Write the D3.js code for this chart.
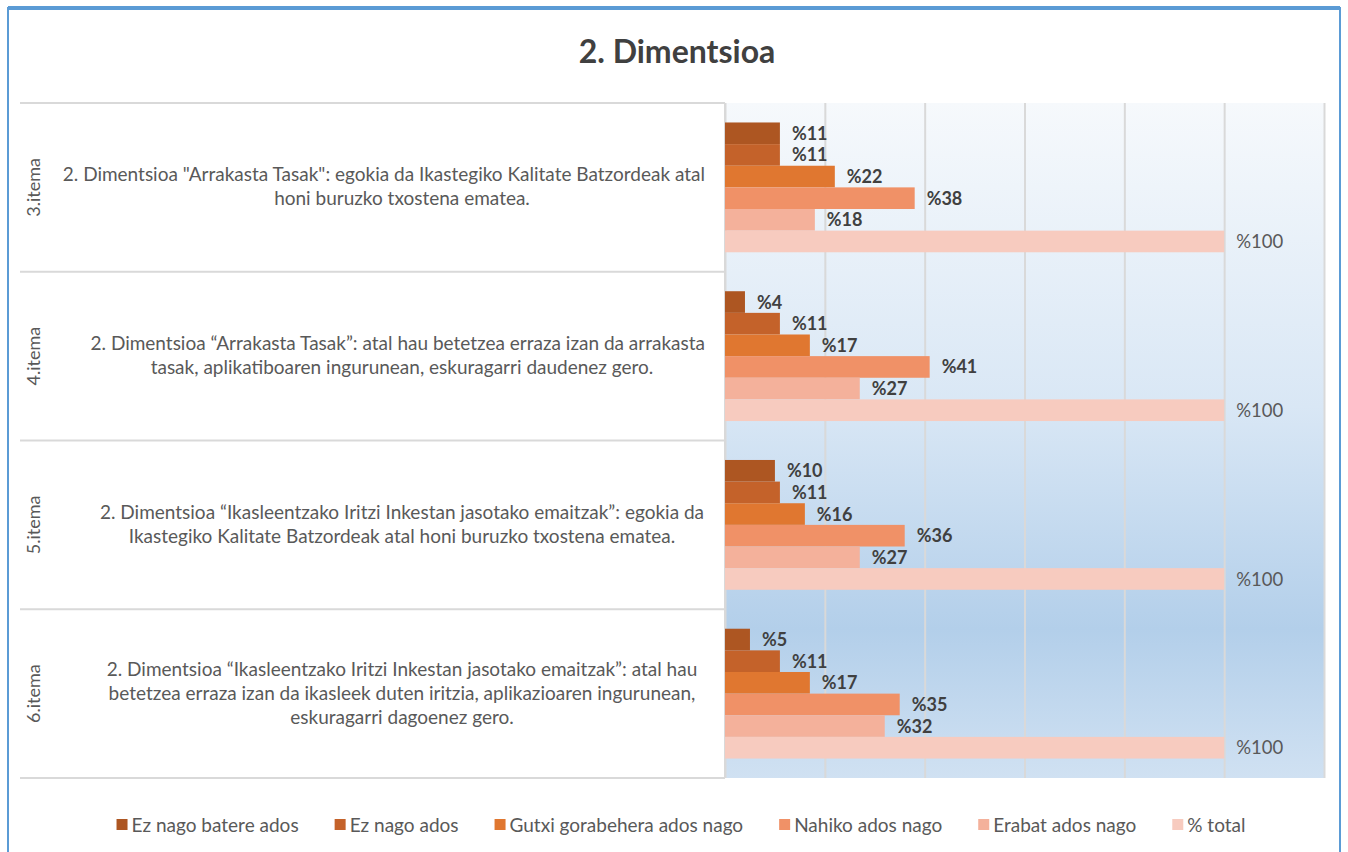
<!DOCTYPE html>
<html>
<head>
<meta charset="utf-8">
<script src="https://cdn.jsdelivr.net/npm/d3@7"></script>
<style>
  body { margin: 0; background: #fff; }
  svg text { font-family: Lato, "Open Sans", sans-serif; }
</style>
</head>
<body>
<div id="viz"></div>
<script>
(function () {
  // --- data ---
  var items = ['3.itema', '4.itema', '5.itema', '6.itema'];
  var itemTexts = [
    ['2. Dimentsioa "Arrakasta Tasak": egokia da Ikastegiko Kalitate Batzordeak atal', 'honi buruzko txostena ematea.'],
    ['2. Dimentsioa \u201cArrakasta Tasak\u201d: atal hau betetzea erraza izan da arrakasta', 'tasak, aplikatiboaren ingurunean, eskuragarri daudenez gero.'],
    ['2. Dimentsioa \u201cIkasleentzako Iritzi Inkestan jasotako emaitzak\u201d: egokia da', 'Ikastegiko Kalitate Batzordeak atal honi buruzko txostena ematea.'],
    ['2. Dimentsioa \u201cIkasleentzako Iritzi Inkestan jasotako emaitzak\u201d: atal hau', 'betetzea erraza izan da ikasleek duten iritzia, aplikazioaren ingurunean,', 'eskuragarri dagoenez gero.']
  ];
  var seriesNames = ['Ez nago batere ados', 'Ez nago ados', 'Gutxi gorabehera ados nago', 'Nahiko ados nago', 'Erabat ados nago', '% total'];
  var ezBatere = [11, 4, 10, 5];
  var ezAdos = [11, 11, 11, 11];
  var gutxi = [22, 17, 16, 17];
  var nahiko = [38, 41, 36, 35];
  var erabat = [18, 27, 27, 32];
  var total = [100, 100, 100, 100];
  var seriesColors = ['#ad5622', '#c4622a', '#e07730', '#f09167', '#f4b19b', '#f7cbbf'];
  var xTicks = [0, 20, 40, 60, 80, 100, 120];

  var seriesValues = [ezBatere, ezAdos, gutxi, nahiko, erabat, total];

  var width = 1348, height = 852;
  var plotLeft = 725, plotRight = 1324, plotTop = 103, plotBottom = 778;
  var tableLeft = 20;

  var svg = d3.select('#viz').append('svg')
    .attr('width', width)
    .attr('height', height);

  var defs = svg.append('defs');
  var grad = defs.append('linearGradient')
    .attr('id', 'bg')
    .attr('x1', 0).attr('y1', 0).attr('x2', 0).attr('y2', 1);
  grad.append('stop').attr('offset', '0%').attr('stop-color', '#f6f9fc');
  grad.append('stop').attr('offset', '45%').attr('stop-color', '#d9e7f5');
  grad.append('stop').attr('offset', '78%').attr('stop-color', '#b3cfea');
  grad.append('stop').attr('offset', '100%').attr('stop-color', '#d0e1f2');

  // outer frame
  svg.append('rect')
    .attr('x', 8).attr('y', 8)
    .attr('width', 1332).attr('height', 870)
    .attr('fill', '#fff')
    .attr('stroke', '#5b9bd5')
    .attr('stroke-width', 2);
  svg.append('line')
    .attr('x1', 8).attr('x2', 1340).attr('y1', 8).attr('y2', 8)
    .attr('stroke', '#5b9bd5').attr('stroke-width', 4);

  // title
  svg.append('text')
    .attr('x', 677).attr('y', 63)
    .attr('text-anchor', 'middle')
    .attr('font-size', 32)
    .attr('font-weight', 'bold')
    .attr('fill', '#404040')
    .text('2. Dimentsioa');

  var x = d3.scaleLinear().domain([0, 120]).range([plotLeft, plotRight]);
  var y0 = d3.scaleBand().domain(items).range([plotTop, plotBottom]).padding(0);
  var y1 = d3.scaleBand().domain(seriesNames).range([0, y0.bandwidth()])
    .paddingInner(0).paddingOuter(0.9);

  // plot background
  svg.append('rect')
    .attr('x', plotLeft).attr('y', plotTop)
    .attr('width', plotRight - plotLeft).attr('height', plotBottom - plotTop)
    .attr('fill', 'url(#bg)');

  // gridlines
  var grid = svg.append('g')
    .attr('transform', 'translate(0,' + plotBottom + ')')
    .call(d3.axisBottom(x).tickValues(xTicks).tickSize(-(plotBottom - plotTop)).tickFormat(''));
  grid.select('.domain').remove();
  grid.selectAll('line').attr('stroke', '#d9d9d9').attr('stroke-width', 2);

  // table lines on the left
  var edges = items.map(function (d) { return y0(d); }).concat([plotBottom]);
  svg.append('g').selectAll('line')
    .data(edges)
    .enter().append('line')
    .attr('x1', tableLeft).attr('x2', plotLeft)
    .attr('y1', function (d) { return d; }).attr('y2', function (d) { return d; })
    .attr('stroke', '#d9d9d9').attr('stroke-width', 2);
  svg.append('line')
    .attr('x1', plotLeft).attr('x2', plotLeft)
    .attr('y1', plotTop).attr('y2', plotBottom)
    .attr('stroke', '#d9d9d9').attr('stroke-width', 2);

  // category labels
  var cats = svg.append('g').selectAll('g')
    .data(items)
    .enter().append('g')
    .attr('transform', function (d) { return 'translate(0,' + (y0(d) + y0.bandwidth() / 2) + ')'; });

  cats.append('text')
    .attr('transform', 'translate(40,0) rotate(-90)')
    .attr('text-anchor', 'middle')
    .attr('font-size', 18)
    .attr('fill', '#595959')
    .text(function (d) { return d; });

  cats.each(function (d, i) {
    var lines = itemTexts[i];
    var g = d3.select(this);
    var lh = 24;
    lines.forEach(function (ln, j) {
      var t = g.append('text')
        .attr('font-size', 19)
        .attr('fill', '#595959')
        .attr('y', (j - (lines.length - 1) / 2) * lh + 6)
        .text(ln);
      var w = t.node().getComputedTextLength();
      var right = Math.min(402 + w / 2, 705);
      t.attr('x', right - w);
    });
  });

  // bars
  var groups = svg.append('g').selectAll('g')
    .data(items)
    .enter().append('g')
    .attr('transform', function (d) { return 'translate(0,' + y0(d) + ')'; });

  groups.selectAll('rect')
    .data(function (d, i) {
      return seriesNames.map(function (s, k) { return { s: s, k: k, v: seriesValues[k][i] }; });
    })
    .enter().append('rect')
    .attr('x', x(0))
    .attr('y', function (d) { return y1(d.s); })
    .attr('width', function (d) { return x(d.v) - x(0); })
    .attr('height', y1.bandwidth())
    .attr('fill', function (d) { return seriesColors[d.k]; });

  groups.selectAll('text')
    .data(function (d, i) {
      return seriesNames.map(function (s, k) { return { s: s, k: k, v: seriesValues[k][i] }; });
    })
    .enter().append('text')
    .attr('x', function (d) { return x(d.v) + 12; })
    .attr('y', function (d) { return y1(d.s) + y1.bandwidth() / 2; })
    .attr('dy', '0.36em')
    .attr('font-size', function (d) { return d.k === 5 ? 18.5 : 18; })
    .attr('font-weight', function (d) { return d.k === 5 ? 'normal' : 'bold'; })
    .attr('fill', function (d) { return d.k === 5 ? '#595959' : '#404040'; })
    .text(function (d) { return '%' + d.v; });

  // legend
  var legend = svg.append('g').attr('transform', 'translate(0,825)');
  var li = legend.selectAll('g')
    .data(seriesNames)
    .enter().append('g');
  li.append('rect')
    .attr('x', 0).attr('y', -6)
    .attr('width', 11).attr('height', 11)
    .attr('fill', function (d, i) { return seriesColors[i]; });
  li.append('text')
    .attr('x', 15)
    .attr('dy', '0.35em')
    .attr('font-size', 19)
    .attr('fill', '#595959')
    .text(function (d) { return d; });
  var widths = [];
  li.each(function () { widths.push(this.getBBox().width); });
  var gap = 36;
  var totalW = d3.sum(widths) + gap * (widths.length - 1);
  var pos = 681 - totalW / 2;
  li.attr('transform', function (d, i) {
    var p = pos;
    pos += widths[i] + gap;
    return 'translate(' + p + ',0)';
  });
})();
</script>
</body>
</html>
